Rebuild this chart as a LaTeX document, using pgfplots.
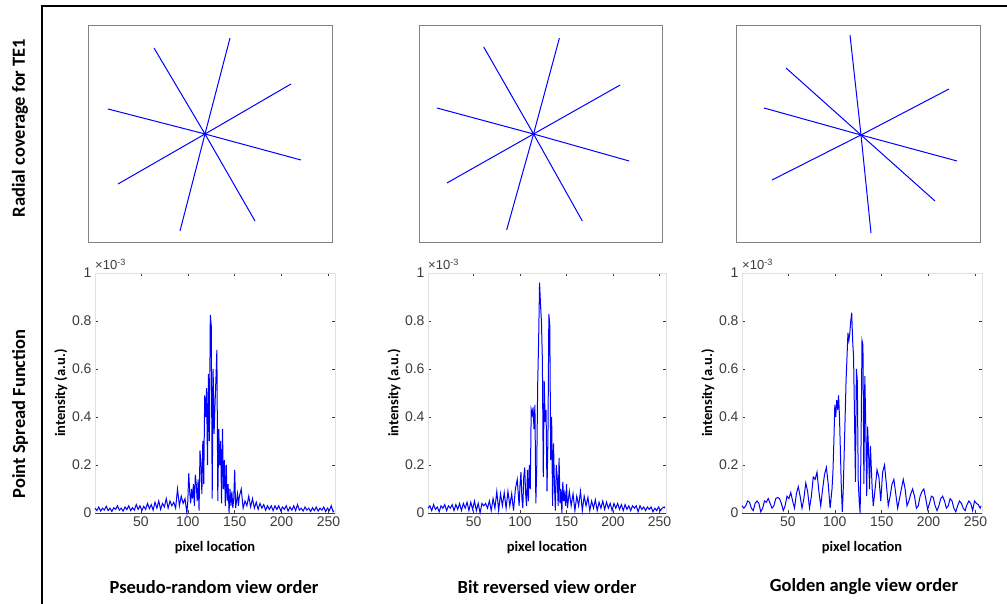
\documentclass[border=0pt]{standalone}
\usepackage{pgfplots}
\pgfplotsset{compat=1.18}
\usepackage{fontspec}
\setmainfont{Liberation Sans}
\newfontfamily\calfont{Carlito}

\definecolor{psfblue}{RGB}{0,0,255}
\definecolor{axdark}{RGB}{60,60,60}
\definecolor{axlight}{RGB}{225,225,225}
\definecolor{boxgray}{RGB}{130,130,130}

\pgfplotsset{
  star/.style={
    scale only axis, anchor=south west,
    xmin=0, xmax=244, ymin=0, ymax=217,
    ticks=none, axis line style={draw=boxgray, line width=0.9pt},
  },
  psf/.style={
    scale only axis, anchor=south west, height=240pt, clip=false,
    xmin=1, xmax=257, ymin=0, ymax=1,
    xtick={50,100,150,200,250}, ytick={0,0.2,0.4,0.6,0.8,1},
    yticklabels={0,0.2,0.4,0.6,0.8,1},
    tick align=inside, major tick length=3pt,
    tick style={axdark, line width=0.6pt},
    axis line style={draw=axlight, line width=0.6pt},
    tick label style={font=\fontsize{14}{16}\selectfont, text=axdark},
    /pgf/number format/assume math mode=true,
    xlabel={pixel location}, ylabel={intensity (a.u.)},
    label style={font=\calfont\bfseries\fontsize{14.5}{16}\selectfont},
    xlabel style={at={(axis description cs:0.5,-0.142)}, anchor=center},
    ylabel style={at={(axis description cs:-0.142,0.5)}, anchor=center},
  },
}

\begin{document}
\begin{tikzpicture}
\path[use as bounding box] (0,0) rectangle (1007pt,604pt);
\draw[black, line width=1.2pt] (1007pt,598pt) -- (42pt,598pt) -- (42pt,0pt);

% radial coverage
\begin{axis}[star, at={(88pt,362pt)}, width=244pt, height=217pt]
\addplot[psfblue, line width=1pt] coordinates {(66,194) (117,108) (167,21)};
\addplot[psfblue, line width=1pt] coordinates {(142,204) (117,108) (92,11)};
\addplot[psfblue, line width=1pt] coordinates {(203,158) (117,108) (30,58)};
\addplot[psfblue, line width=1pt] coordinates {(20,133) (117,108) (213,82)};
\end{axis}

\begin{axis}[star, at={(419pt,362pt)}, width=243pt, height=217pt]
\addplot[psfblue, line width=1pt] coordinates {(65,195) (115,108) (164,21)};
\addplot[psfblue, line width=1pt] coordinates {(141,204) (115,108) (88,12)};
\addplot[psfblue, line width=1pt] coordinates {(202,157) (115,108) (28,59)};
\addplot[psfblue, line width=1pt] coordinates {(18,134) (115,108) (211,81)};
\end{axis}

\begin{axis}[star, at={(736pt,362pt)}, width=244pt, height=217pt]
\addplot[psfblue, line width=1pt] coordinates {(114,207) (125,107) (135,9)};
\addplot[psfblue, line width=1pt] coordinates {(50,174) (125,107) (199,41)};
\addplot[psfblue, line width=1pt] coordinates {(213,153) (125,107) (36,62)};
\addplot[psfblue, line width=1pt] coordinates {(28,134) (125,107) (221,81)};
\end{axis}

% point spread functions (intensity in units of 1e-3)
\begin{axis}[psf, at={(95pt,91pt)}, width=240pt]
\addplot[psfblue, line width=1pt] coordinates {
(1,0.02) (3,0.01) (5,0.025) (7,0.008) (9,0.02) (11,0.012) (13,0.028) (15,0.01)
(17,0.02) (19,0.006) (21,0.022) (23,0.015) (25,0.03) (27,0.012) (29,0.02) (31,0.008)
(33,0.025) (35,0.014) (37,0.03) (39,0.01) (41,0.022) (43,0.012) (45,0.035) (47,0.015)
(49,0.03) (51,0.01) (53,0.028) (55,0.015) (57,0.04) (59,0.018) (61,0.035) (63,0.012)
(65,0.045) (67,0.02) (69,0.05) (71,0.015) (73,0.04) (75,0.025) (77,0.06) (79,0.02)
(81,0.05) (83,0.03) (85,0.045) (87,0.02) (89,0.1) (91,0.03) (93,0.07) (95,0.04)
(97,0.06) (99,0.0) (100,0.05) (101,0.165) (102,0.09) (103,0.04) (104,0.1) (105,0.06)
(106,0.12) (107,0.03) (108,0.16) (109,0.12) (110,0.05) (111,0.14) (112,0.01) (113,0.26)
(114,0.2) (115,0.08) (116,0.3) (117,0.12) (118,0.49) (119,0.4) (120,0.52) (121,0.2)
(122,0.58) (123,0.3) (124,0.825) (125,0.78) (126,0.06) (127,0.6) (128,0.33) (129,0.45)
(130,0.56) (131,0.68) (132,0.05) (133,0.35) (134,0.2) (135,0.3) (136,0.04) (137,0.35)
(138,0.1) (139,0.22) (140,0.03) (141,0.2) (142,0.05) (143,0.12) (144,0.0) (145,0.1)
(146,0.03) (147,0.09) (148,0.02) (149,0.06) (150,0.18) (151,0.02) (152,0.05) (153,0.08)
(154,0.03) (155,0.07) (157,0.1) (159,0.02) (161,0.05) (163,0.03) (165,0.07) (167,0.025)
(169,0.06) (171,0.02) (173,0.045) (175,0.015) (177,0.04) (179,0.02) (181,0.035) (183,0.012)
(185,0.03) (187,0.015) (189,0.03) (191,0.01) (193,0.03) (195,0.015) (197,0.03) (199,0.01)
(201,0.025) (203,0.015) (205,0.03) (207,0.008) (209,0.025) (211,0.012) (213,0.03) (215,0.01)
(217,0.035) (219,0.012) (221,0.02) (223,0.008) (225,0.025) (227,0.012) (229,0.02) (231,0.006)
(233,0.022) (235,0.01) (237,0.025) (239,0.008) (241,0.02) (243,0.012) (245,0.025) (247,0.006)
(249,0.02) (251,0.01) (253,0.03) (255,0.005) (256,0.01)
};
\draw[axdark, line width=0.8pt] (rel axis cs:0,0) -- (rel axis cs:1,0);
\node[anchor=south west, inner sep=0pt, text=axdark, font=\fontsize{13}{15}\selectfont]
  at (rel axis cs:0,1) [yshift=3pt] {×10\textsuperscript{-3}};
\end{axis}

\begin{axis}[psf, at={(428pt,91pt)}, width=238pt]
\addplot[psfblue, line width=1pt] coordinates {
(1,0.02) (3,0.03) (5,0.01) (7,0.035) (9,0.015) (11,0.025) (13,0.005) (15,0.03)
(17,0.02) (19,0.035) (21,0.01) (23,0.03) (25,0.02) (27,0.035) (29,0.01) (31,0.035)
(33,0.015) (35,0.04) (37,0.01) (39,0.04) (41,0.02) (43,0.045) (45,0.01) (47,0.045)
(49,0.015) (51,0.05) (53,0.01) (55,0.04) (57,0.0) (59,0.04) (61,0.03) (63,0.04)
(65,0.02) (67,0.05) (69,0.01) (71,0.06) (73,0.02) (75,0.09) (77,0.01) (79,0.08)
(81,0.03) (83,0.085) (85,0.02) (87,0.09) (89,0.03) (91,0.08) (93,0.01) (95,0.1)
(97,0.14) (99,0.03) (100,0.12) (101,0.17) (102,0.06) (103,0.02) (104,0.15) (105,0.19)
(106,0.08) (107,0.03) (108,0.18) (109,0.05) (110,0.2) (111,0.1) (112,0.43) (113,0.41)
(114,0.44) (115,0.35) (116,0.45) (117,0.04) (118,0.2) (119,0.54) (120,0.72) (121,0.96)
(122,0.87) (123,0.8) (124,0.64) (125,0.15) (126,0.55) (127,0.38) (128,0.43) (129,0.09)
(130,0.31) (131,0.83) (132,0.78) (133,0.22) (134,0.4) (135,0.03) (136,0.29) (137,0.12)
(138,0.01) (139,0.2) (140,0.15) (141,0.03) (142,0.23) (143,0.04) (144,0.1) (145,0.0)
(146,0.13) (147,0.05) (148,0.08) (149,0.03) (150,0.12) (151,0.02) (153,0.09) (155,0.03)
(157,0.08) (159,0.01) (161,0.07) (163,0.03) (165,0.09) (167,0.01) (169,0.07) (171,0.03)
(173,0.065) (175,0.01) (177,0.05) (179,0.02) (181,0.055) (183,0.01) (185,0.045) (187,0.02)
(189,0.05) (191,0.015) (193,0.045) (195,0.02) (197,0.04) (199,0.01) (201,0.04) (203,0.02)
(205,0.04) (207,0.015) (209,0.035) (211,0.01) (213,0.035) (215,0.015) (217,0.03) (219,0.01)
(221,0.03) (223,0.02) (225,0.03) (227,0.005) (229,0.03) (231,0.015) (233,0.025) (235,0.01)
(237,0.025) (239,0.015) (241,0.025) (243,0.005) (245,0.02) (247,0.01) (249,0.025) (251,0.01)
(253,0.02) (255,0.025) (256,0.02)
};
\draw[axdark, line width=0.8pt] (rel axis cs:0,0) -- (rel axis cs:1,0);
\node[anchor=south west, inner sep=0pt, text=axdark, font=\fontsize{13}{15}\selectfont]
  at (rel axis cs:0,1) [yshift=3pt] {×10\textsuperscript{-3}};
\end{axis}

\begin{axis}[psf, at={(742pt,91pt)}, width=240pt]
\addplot[psfblue, line width=1pt] coordinates {
(1,0.03) (3,0.02) (5,0.03) (7,0.05) (9,0.045) (11,0.02) (13,0.01) (15,0.04)
(17,0.05) (19,0.04) (21,0.005) (23,0.02) (25,0.05) (27,0.045) (29,0.06) (31,0.04)
(33,0.02) (35,0.03) (37,0.06) (39,0.065) (41,0.06) (43,0.04) (45,0.01) (47,0.03)
(49,0.07) (51,0.06) (53,0.085) (55,0.05) (57,0.02) (59,0.08) (61,0.11) (63,0.07)
(65,0.02) (67,0.06) (69,0.125) (71,0.09) (73,0.02) (75,0.07) (77,0.15) (79,0.14)
(81,0.17) (83,0.09) (85,0.03) (87,0.1) (89,0.16) (91,0.19) (93,0.12) (95,0.02)
(97,0.1) (98,0.17) (99,0.3) (100,0.45) (101,0.4) (102,0.47) (103,0.43) (104,0.49)
(105,0.4) (106,0.25) (107,0.1) (108,0.005) (109,0.1) (110,0.25) (111,0.4) (112,0.55)
(113,0.65) (114,0.75) (115,0.72) (116,0.75) (117,0.8) (118,0.835) (119,0.72) (120,0.65)
(121,0.4) (122,0.13) (123,0.6) (124,0.55) (125,0.13) (126,0.05) (127,0.0) (128,0.3)
(129,0.72) (130,0.7) (131,0.12) (132,0.57) (133,0.37) (134,0.07) (135,0.36) (136,0.26)
(137,0.1) (138,0.28) (139,0.18) (140,0.09) (141,0.03) (143,0.1) (145,0.18) (147,0.15)
(149,0.05) (151,0.17) (153,0.2) (155,0.12) (157,0.03) (159,0.07) (161,0.12) (163,0.14)
(165,0.08) (167,0.02) (169,0.06) (171,0.1) (173,0.14) (175,0.1) (177,0.03) (179,0.05)
(181,0.08) (183,0.1) (185,0.07) (187,0.02) (189,0.03) (191,0.07) (193,0.09) (195,0.1)
(197,0.06) (199,0.015) (201,0.04) (203,0.07) (205,0.065) (207,0.03) (209,0.01) (211,0.03)
(213,0.06) (215,0.07) (217,0.05) (219,0.02) (221,0.03) (223,0.06) (225,0.05) (227,0.02)
(229,0.005) (231,0.03) (233,0.05) (235,0.04) (237,0.02) (239,0.01) (241,0.035) (243,0.05)
(245,0.04) (247,0.01) (249,0.05) (251,0.04) (253,0.035) (255,0.02) (256,0.03)
};
\draw[axdark, line width=0.8pt] (rel axis cs:0,0) -- (rel axis cs:1,0);
\node[anchor=south west, inner sep=0pt, text=axdark, font=\fontsize{13}{15}\selectfont]
  at (rel axis cs:0,1) [yshift=3pt] {×10\textsuperscript{-3}};
\end{axis}

% row and column titles
\node[rotate=90, font=\calfont\bfseries\fontsize{18.5}{22}\selectfont] at (20pt,476pt) {Radial coverage for TE1};
\node[rotate=90, font=\calfont\bfseries\fontsize{18.5}{22}\selectfont] at (20pt,190pt) {Point Spread Function};
\node[font=\calfont\bfseries\fontsize{18.5}{22}\selectfont] at (214pt,17pt) {Pseudo-random view order};
\node[font=\calfont\bfseries\fontsize{18.5}{22}\selectfont] at (547pt,17pt) {Bit reversed view order};
\node[font=\calfont\bfseries\fontsize{18.5}{22}\selectfont] at (864pt,17pt) {Golden angle view order};
\end{tikzpicture}
\end{document}
